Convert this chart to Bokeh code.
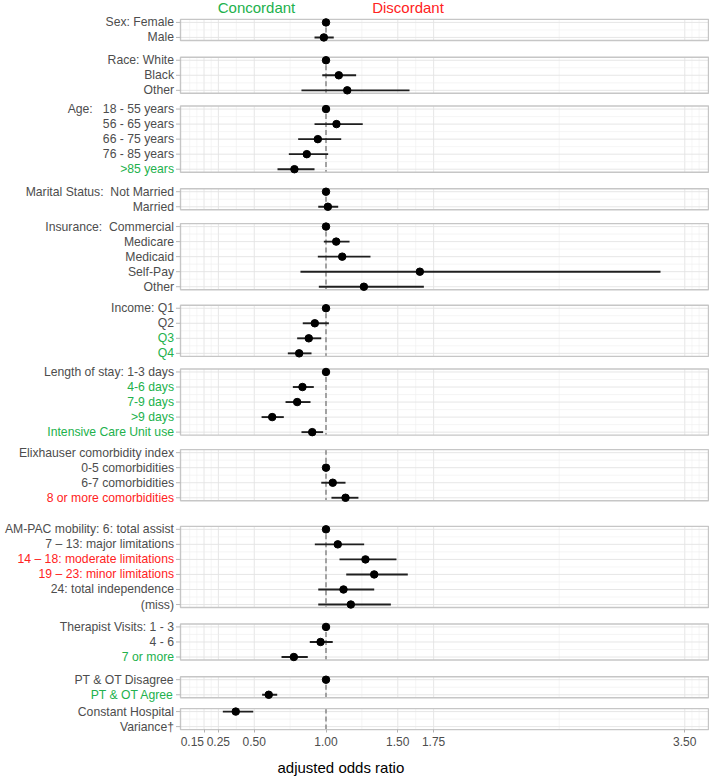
import math
from bokeh.plotting import figure
from bokeh.models import Range1d, FixedTicker, Title, NumeralTickFormatter
from bokeh.core.properties import value
from bokeh.embed import file_html
from bokeh.resources import INLINE

NB = "\u00a0"
NAN = float("nan")

# ---------------- data ----------------
labels = [
    "Sex: Female", "Male",
    "Race: White", "Black", "Other",
    "Age:" + NB * 2 + " 18 - 55 years", "56 - 65 years", "66 - 75 years", "76 - 85 years", ">85 years",
    "Marital Status:" + NB + " Not Married", "Married",
    "Insurance:" + NB + " Commercial", "Medicare", "Medicaid", "Self-Pay", "Other",
    "Income: Q1", "Q2", "Q3", "Q4",
    "Length of stay: 1-3 days", "4-6 days", "7-9 days", ">9 days", "Intensive Care Unit use",
    "Elixhauser comorbidity index", "0-5 comorbidities", "6-7 comorbidities", "8 or more comorbidities",
    "AM-PAC mobility: 6: total assist", "7 \u2013 13: major limitations",
    "14 \u2013 18: moderate limitations", "19 \u2013 23: minor limitations",
    "24: total independence", "(miss)",
    "Therapist Visits: 1 - 3", "4 - 6", "7 or more",
    "PT & OT Disagree", "PT & OT Agree",
    "Constant Hospital", "Variance\u2020",
]
panel = [0, 0,
         1, 1, 1,
         2, 2, 2, 2, 2,
         3, 3,
         4, 4, 4, 4, 4,
         5, 5, 5, 5,
         6, 6, 6, 6, 6,
         7, 7, 7, 7,
         8, 8, 8, 8, 8, 8,
         9, 9, 9,
         10, 10,
         11, 11]
odds = [1.0, 0.985,
        1.0, 1.089, 1.148,
        1.0, 1.073, 0.943, 0.866, 0.780,
        1.0, 1.013,
        1.0, 1.071, 1.113, 1.654, 1.264,
        1.0, 0.922, 0.880, 0.813,
        1.0, 0.836, 0.799, 0.625, 0.904,
        NAN, 1.0, 1.047, 1.136,
        1.0, 1.082, 1.275, 1.336, 1.122, 1.173,
        1.0, 0.962, 0.776,
        1.0, 0.601,
        0.371, NAN]
lower = [NAN, 0.920,
         NAN, 0.974, 0.829,
         NAN, 0.920, 0.806, 0.741, 0.662,
         NAN, 0.946,
         NAN, 0.985, 0.943, 0.822, 0.950,
         NAN, 0.838, 0.799, 0.734,
         NAN, 0.769, 0.718, 0.551, 0.829,
         NAN, NAN, 0.967, 1.038,
         NAN, 0.922, 1.094, 1.141, 0.946, 0.946,
         NAN, 0.887, 0.690,
         NAN, 0.555,
         0.281, NAN]
upper = [NAN, 1.054,
         NAN, 1.210, 1.582,
         NAN, 1.256, 1.106, 1.015, 0.920,
         NAN, 1.085,
         NAN, 1.164, 1.310, 3.331, 1.682,
         NAN, 1.020, 0.967, 0.899,
         NAN, 0.915, 0.892, 0.706, 0.980,
         NAN, NAN, 1.136, 1.226,
         NAN, 1.266, 1.491, 1.570, 1.336, 1.452,
         NAN, 1.047, 0.873,
         NAN, 0.660,
         0.493, NAN]
label_kind = ["n", "n",
              "n", "n", "n",
              "n", "n", "n", "n", "c",
              "n", "n",
              "n", "n", "n", "n", "n",
              "n", "n", "c", "c",
              "n", "c", "c", "c", "c",
              "n", "n", "n", "d",
              "n", "n", "d", "d", "n", "n",
              "n", "n", "c",
              "n", "c",
              "n", "n"]
x_breaks = [0.15, 0.25, 0.5, 1.0, 1.5, 1.75, 3.5]
x_minor = [0.05, 0.10, 0.20, 0.375, 0.75, 1.25, 1.625, 2.625, 3.55, 3.60]
header_text = ["Concordant", "Discordant"]
x_title = "adjusted odds ratio"

# ---------------- styles / layout ----------------
GREEN = "#22B14C"
RED = "#FF2222"
GREY_TXT = "#4D4D4D"
kind_color = {"n": GREY_TXT, "c": GREEN, "d": RED}
FONT = "Liberation Sans"

W, H = 709, 781
PX_PER_UNIT = 143.5      # horizontal scale (px per OR unit)
X0_PX = 182.0            # x of OR = 0
FRAME_TOP, FRAME_BOTTOM = 0, 735


def xd(px):
    return (px - X0_PX) / PX_PER_UNIT


panel_first = [22, 60, 109, 192, 227, 309, 373, 454, 531, 629, 682, 714]
ROW = 15.1
PAD = 3.0
n_panels = len(panel_first)

row_y = []
counter = {}
for p_id in panel:
    k = counter.get(p_id, 0)
    row_y.append(panel_first[p_id] + k * ROW)
    counter[p_id] = k + 1

p_top = [panel_first[i] - PAD for i in range(n_panels)]
p_bot = [panel_first[i] + (counter[i] - 1) * ROW + PAD for i in range(n_panels)]
XL, XR = xd(180), xd(708)

p = figure(width=W, height=H, output_backend="svg", toolbar_location=None,
           x_range=Range1d(xd(0), xd(W)), y_range=Range1d(FRAME_BOTTOM, FRAME_TOP),
           min_border_left=0, min_border_right=0, min_border_top=0,
           min_border_bottom=H - (FRAME_BOTTOM - FRAME_TOP),
           y_axis_location=None)
p.outline_line_color = None
p.xgrid.visible = False
p.ygrid.visible = False
p.background_fill_color = "white"
p.border_fill_color = "white"

# panel backgrounds
p.quad(left=[XL] * n_panels, right=[XR] * n_panels, top=p_top, bottom=p_bot,
       fill_color="white", line_color=None)

# grid lines
vx0, vy0, vy1, vc, vw = [], [], [], [], []
for i in range(n_panels):
    for xv in x_minor:
        vx0.append(xv); vy0.append(p_top[i]); vy1.append(p_bot[i]); vc.append("#EFEFEF"); vw.append(0.6)
    for xv in x_breaks:
        vx0.append(xv); vy0.append(p_top[i]); vy1.append(p_bot[i]); vc.append("#E3E3E3"); vw.append(0.9)
p.segment(x0=vx0, x1=vx0, y0=vy0, y1=vy1, line_color=vc, line_width=vw)

hy, hc, hw = [], [], []
for i in range(n_panels):
    ys = [row_y[j] for j in range(len(panel)) if panel[j] == i]
    for a, b in zip(ys[:-1], ys[1:]):
        hy.append((a + b) / 2); hc.append("#EFEFEF"); hw.append(0.6)
    for yv in ys:
        hy.append(yv); hc.append("#E3E3E3"); hw.append(0.9)
p.segment(x0=[XL] * len(hy), x1=[XR] * len(hy), y0=hy, y1=hy, line_color=hc, line_width=hw)

# reference line at OR = 1
p.segment(x0=[1.0] * n_panels, x1=[1.0] * n_panels, y0=p_top, y1=p_bot,
          line_color="#6E6E6E", line_width=1.2, line_dash="5 3")

# panel borders
p.quad(left=[XL] * n_panels, right=[XR] * n_panels, top=p_top, bottom=p_bot,
       fill_color=None, line_color="#C6C6C6", line_width=1.4)

# y tick marks
p.segment(x0=[xd(175.5)] * len(row_y), x1=[XL] * len(row_y), y0=row_y, y1=row_y,
          line_color="#B8B8B8", line_width=1)

# confidence intervals
ci = [j for j in range(len(odds)) if not math.isnan(lower[j])]
p.segment(x0=[lower[j] for j in ci], x1=[upper[j] for j in ci],
          y0=[row_y[j] for j in ci], y1=[row_y[j] for j in ci],
          line_color="#1F1F1F", line_width=1.9)

# points
pt = [j for j in range(len(odds)) if not math.isnan(odds[j])]
p.scatter(x=[odds[j] for j in pt], y=[row_y[j] for j in pt], size=7.5,
          fill_color="black", line_color="black")

# row labels
p.text(x=[xd(173.5)] * len(labels), y=row_y, text=labels,
       text_align="right", text_baseline="middle",
       text_font=value(FONT), text_font_size="12.2px",
       text_color=[kind_color[k] for k in label_kind])

# header
p.text(x=[xd(256), xd(407.5)], y=[7.5, 7.5], text=header_text,
       text_align="center", text_baseline="middle",
       text_font=value(FONT), text_font_size="15px", text_color=[GREEN, RED])

# x axis (ticks drawn inward from the frame bottom, just under the last panel)
ax = p.xaxis[0]
ax.ticker = FixedTicker(ticks=x_breaks)
ax.formatter = NumeralTickFormatter(format="0.00")
ax.major_label_overrides = {0.15: "0.15" + NB * 7}
ax.axis_line_color = None
ax.major_tick_line_color = "#B3B3B3"
ax.major_tick_out = 0
ax.major_tick_in = 3
ax.minor_tick_line_color = None
ax.major_label_standoff = 2
ax.major_label_text_font = FONT
ax.major_label_text_font_size = "12px"
ax.major_label_text_color = GREY_TXT

p.add_layout(Title(text=x_title, align="left", offset=277, standoff=11,
                   text_font=FONT, text_font_size="15px", text_font_style="normal",
                   text_color="black"), "below")

open("out.html", "w").write(file_html(p, INLINE))
